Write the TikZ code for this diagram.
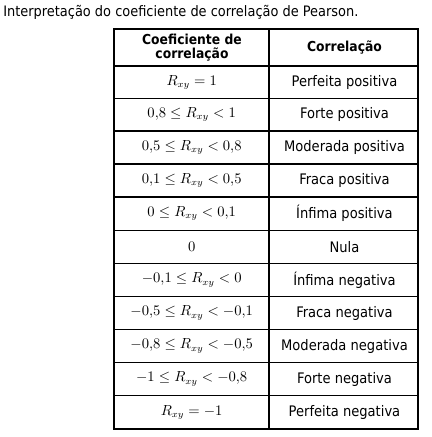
\documentclass[tikz,border=0pt]{standalone}
\usepackage{fontspec}
\setmainfont{DejaVu Sans Condensed}
\begin{document}
\begin{tikzpicture}[x=0.75pt,y=-0.75pt,
  outer/.style={line width=1.5pt},
  inner/.style={line width=1.1pt},
  cell/.style={inner sep=0pt,anchor=center,font=\fontsize{10.9pt}{12pt}\selectfont},
  mcell/.style={inner sep=0pt,anchor=center,font=\fontsize{10.5pt}{12pt}\selectfont},
  hcell/.style={inner sep=0pt,anchor=center,align=center,font=\fontsize{10.3pt}{11pt}\selectfont\bfseries}]
\useasboundingbox[fill=white] (0,0) rectangle (432,437);
\node[anchor=base west,inner sep=0pt,font=\fontsize{10.8pt}{12pt}\selectfont] (title) at (3,16) {Interpretação do coeficiente de correlação de Pearson.};
% grid
\def\yl{114}\def\ym{269.5}\def\yr{418.5}
\foreach \y in {98.5,131,164,197,230.5,263.5,296.5,329.5,362.5,395.5}
  \draw[inner] (\yl,\y) -- (\yr,\y);
\draw[outer] (\yl,65.5) -- (\yr,65.5);
\draw[outer] (\ym,29.3) -- (\ym,429);
\draw[outer] (\yl,29.3) rectangle (\yr,429);
% header
\node[hcell] (h1) at (192,47.5) {Coeficiente de\\correlação};
\node[hcell] (h2) at (344.5,47.5) {Correlação};
% rows
\foreach \y/\m/\t [count=\i] in {
  82.2/{R_{xy}=1}/Perfeita positiva,
  114.7/{0{,}8\le R_{xy}<1}/Forte positiva,
  147.5/{0{,}5\le R_{xy}<0{,}8}/Moderada positiva,
  180.5/{0{,}1\le R_{xy}<0{,}5}/Fraca positiva,
  213.7/{0\le R_{xy}<0{,}1}/Ínfima positiva,
  247/{0}/Nula,
  280/{-0{,}1\le R_{xy}<0}/Ínfima negativa,
  313/{-0{,}5\le R_{xy}<-0{,}1}/Fraca negativa,
  346/{-0{,}8\le R_{xy}<-0{,}5}/Moderada negativa,
  379/{-1\le R_{xy}<-0{,}8}/Forte negativa,
  412.2/{R_{xy}=-1}/Perfeita negativa}
{
  \node[mcell] (c\i) at (191.7,\y) {$\m$};
  \node[cell] (d\i) at (344.5,\y) {\t};
}
\end{tikzpicture}
\end{document}
